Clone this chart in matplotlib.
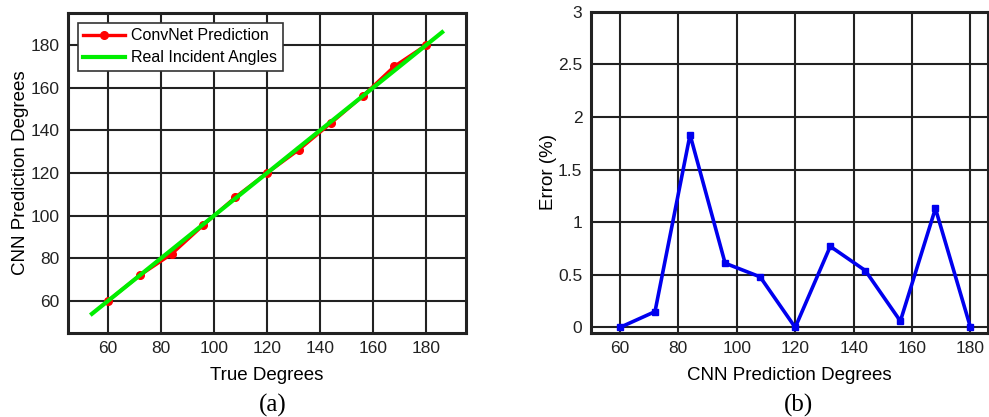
import matplotlib.pyplot as plt

plt.rcParams['font.family'] = ['Liberation Sans', 'DejaVu Sans']

# true incident angles (degrees)
true_deg = [60, 72, 84, 96, 108, 120, 132, 144, 156, 168, 180]
# ConvNet predicted angles
pred_deg = [60, 72, 82, 95.6, 108.6, 120, 130.9, 143.3, 156, 170, 180]
# reference line y = x
ref_x = [54, 186]
ref_y = [54, 186]
# prediction error (%)
error_pct = [0, 0.15, 1.83, 0.61, 0.48, 0, 0.77, 0.54, 0.06, 1.13, 0]

fig = plt.figure(figsize=(9.89, 4.17), dpi=100)
ax1 = fig.add_axes([0.0688, 0.2014, 0.4024, 0.7674])
ax2 = fig.add_axes([0.5973, 0.2022, 0.4017, 0.77])

grid_kw = dict(color='#222222', linewidth=1.5)

# left panel
ax1.plot(true_deg, pred_deg, color='red', linewidth=2.4, marker='o',
         markersize=5.5, markerfacecolor='red', markeredgecolor='red',
         label='ConvNet Prediction')
ax1.plot(ref_x, ref_y, color='#00ee00', linewidth=3, label='Real Incident Angles')
ax1.set_xlim(45, 195)
ax1.set_ylim(45, 195)
ax1.set_xticks(range(60, 181, 20))
ax1.set_yticks(range(60, 181, 20))
ax1.grid(True, **grid_kw)
ax1.set_axisbelow(True)
ax1.set_xlabel('True Degrees', fontsize=13.5, labelpad=8)
ax1.set_ylabel('CNN Prediction Degrees', fontsize=13.5, labelpad=1)
leg = ax1.legend(loc='upper left', fontsize=11.5, frameon=True, fancybox=False,
                 edgecolor='#333333', framealpha=1, handlelength=2.6,
                 borderpad=0.35, labelspacing=0.45, handletextpad=0.4,
                 borderaxespad=0.6, markerscale=1)
leg.get_frame().set_linewidth(1.2)

# right panel
ax2.plot(true_deg, error_pct, color='#0000ee', linewidth=2.6, marker='s',
         markersize=5, markerfacecolor='#0000ee')
ax2.set_xlim(50, 186)
ax2.set_ylim(-0.05, 3)
ax2.set_xticks(range(60, 181, 20))
ax2.set_yticks([0, 0.5, 1, 1.5, 2, 2.5, 3])
ax2.set_yticklabels(['0', '0.5', '1', '1.5', '2', '2.5', '3'])
ax2.grid(True, **grid_kw)
ax2.set_axisbelow(True)
ax2.set_xlabel('CNN Prediction Degrees', fontsize=13.5, labelpad=8)
ax2.set_ylabel('Error (%)', fontsize=13.5, labelpad=1)

for ax in (ax1, ax2):
    ax.tick_params(length=0, labelsize=12.5, colors='#222222', pad=6)
    for sp in ax.spines.values():
        sp.set_linewidth(2.2)
        sp.set_color('#222222')

fig.text(0.276, 0.012, '(a)', ha='center', fontsize=18, family='Liberation Serif')
fig.text(0.807, 0.012, '(b)', ha='center', fontsize=18, family='Liberation Serif')

fig.savefig('out.png', dpi=100)
